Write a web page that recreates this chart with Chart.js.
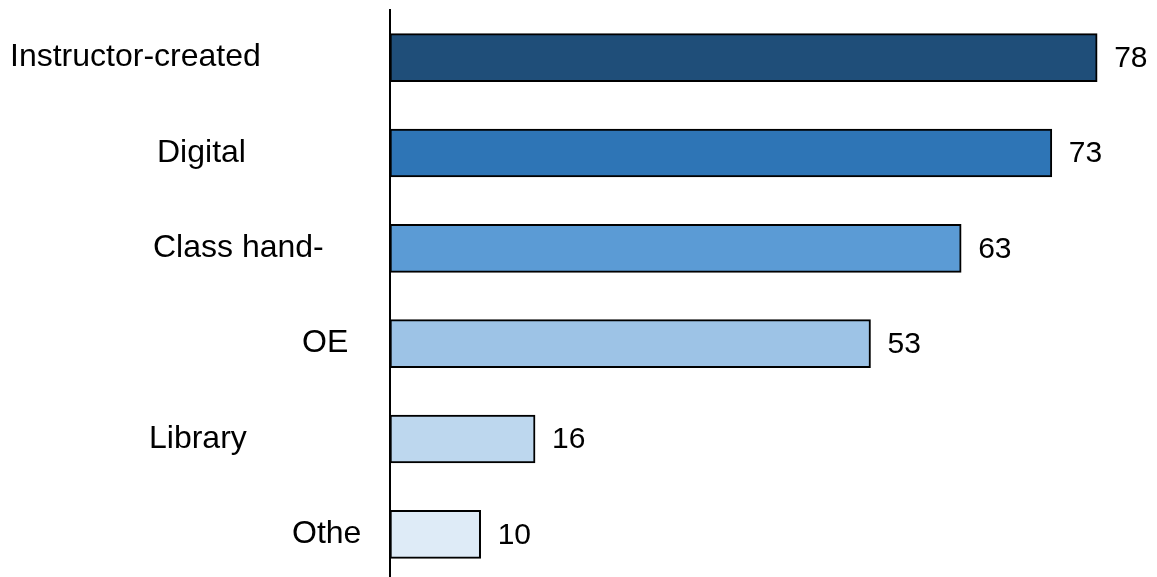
<!DOCTYPE html>
<html>
<head>
<meta charset="utf-8">
<script src="https://cdn.jsdelivr.net/npm/chart.js@4/dist/chart.umd.min.js"></script>
<style>
  html, body { margin: 0; padding: 0; background: #fff; overflow: hidden; }
  #wrap { width: 1157px; height: 582px; }
</style>
</head>
<body>
<div id="wrap"><canvas id="chart"></canvas></div>
<script>
'use strict';

// ── Data ──────────────────────────────────────────────────────────────────────
const categories = ['Instructor-created', 'Digital', 'Class hand-', 'OE', 'Library', 'Othe'];
const values     = [78, 73, 63, 53, 16, 10];
const barColors  = ['#1F4E79', '#2E75B6', '#5B9BD5', '#9DC3E6', '#BDD7EE', '#DEEBF7'];

// left edge of each category label (the source places them unevenly)
const labelLeft  = [10, 157, 153, 302, 149, 292];

const FONT = "'Liberation Sans', Arial, sans-serif";

// ── Labels plugin ─────────────────────────────────────────────────────────────
const labelPlugin = {
  id: 'labels',
  afterDatasetsDraw(chart) {
    const ctx = chart.ctx;
    const meta = chart.getDatasetMeta(0);
    ctx.save();
    ctx.fillStyle = '#000';
    ctx.textBaseline = 'middle';
    ctx.textAlign = 'left';
    meta.data.forEach((bar, i) => {
      ctx.font = '32px ' + FONT;
      ctx.fillText(categories[i], labelLeft[i], bar.y);
      ctx.font = '30px ' + FONT;
      ctx.fillText(String(values[i]), bar.x + 17, bar.y + 1);
    });
    ctx.restore();
  }
};

new Chart(document.getElementById('chart'), {
  type: 'bar',
  data: {
    labels: categories,
    datasets: [{
      data: values,
      backgroundColor: barColors,
      borderColor: '#000',
      borderWidth: 2,
      borderSkipped: false,
      barThickness: 48
    }]
  },
  options: {
    indexAxis: 'y',
    responsive: true,
    maintainAspectRatio: false,
    animation: false,
    layout: { padding: { left: 382, top: 10, right: 0, bottom: 0 } },
    plugins: {
      legend: { display: false },
      tooltip: { enabled: false }
    },
    scales: {
      x: {
        display: false,
        min: 0,
        max: 84.6
      },
      y: {
        grid: { display: false },
        ticks: { display: false },
        border: { display: true, color: '#000', width: 2 }
      }
    }
  },
  plugins: [labelPlugin]
});
</script>
</body>
</html>
